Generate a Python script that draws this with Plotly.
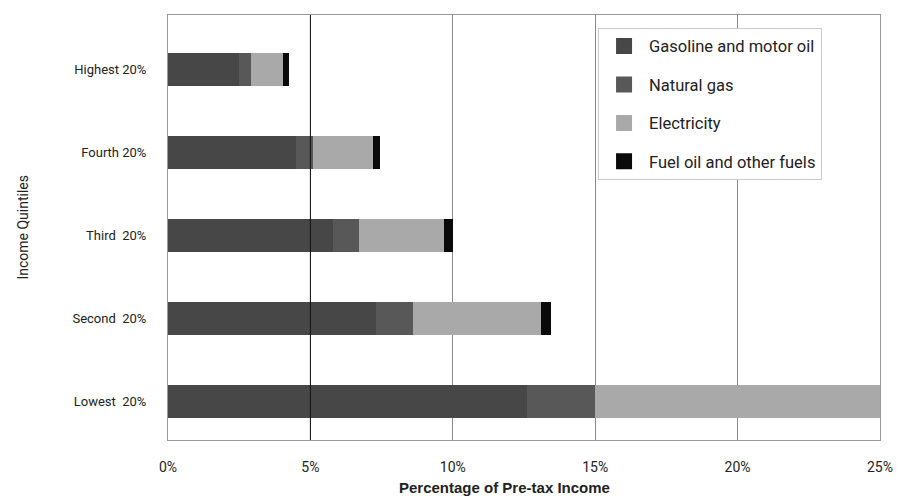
import plotly.graph_objects as go

quintiles = ["Lowest  20%", "Second  20%", "Third  20%", "Fourth 20%", "Highest 20%"]
gasoline = [12.6, 7.3, 5.8, 4.5, 2.5]
natural_gas = [2.4, 1.3, 0.9, 0.6, 0.4]
electricity = [10.3, 4.5, 3.0, 2.1, 1.15]
fuel_oil = [0.8, 0.35, 0.3, 0.25, 0.2]
x_ticks = [0, 5, 10, 15, 20, 25]
x_tick_labels = ["0%", "5%", "10%", "15%", "20%", "25%"]

series = [
    ("Gasoline and motor oil", gasoline, "#474747"),
    ("Natural gas", natural_gas, "#585858"),
    ("Electricity", electricity, "#a9a9a9"),
    ("Fuel oil and other fuels", fuel_oil, "#0a0a0a"),
]

FONT = "Liberation Sans Narrow, Roboto, Open Sans"

fig = go.Figure()
for name, vals, color in series:
    fig.add_trace(go.Bar(
        y=quintiles, x=vals, name=name, orientation="h",
        marker=dict(color=color, line=dict(width=0)),
        legendgroup=name, showlegend=False,
    ))
# legend entries with larger square swatches
for name, vals, color in series:
    fig.add_trace(go.Scatter(
        x=[None], y=[None], mode="markers", name=name,
        marker=dict(symbol="square", size=19, color=color),
        legendgroup=name, showlegend=True,
    ))

fig.add_shape(type="line", xref="x", yref="paper", x0=5, x1=5, y0=0, y1=1,
              line=dict(color="#111111", width=1))

fig.add_annotation(text="Income Quintiles", xref="paper", yref="paper",
                   x=-0.205, y=0.5, xanchor="center", yanchor="middle",
                   textangle=-90, showarrow=False,
                   font=dict(family=FONT, size=14, color="#222222"))

fig.add_annotation(text="<b>Percentage of Pre-tax Income</b>", xref="paper", yref="paper",
                   x=0.472, y=0, yshift=-47, xanchor="center", yanchor="middle",
                   showarrow=False,
                   font=dict(family="Liberation Sans, Arial", size=15, color="#222222"))

fig.update_layout(
    width=894, height=488,
    barmode="stack", bargap=0.6,
    paper_bgcolor="white", plot_bgcolor="white",
    margin=dict(l=160, r=22, t=7, b=56, autoexpand=False),
    font=dict(family=FONT, size=13, color="#222222"),
    legend=dict(
        x=0.604, y=0.97, xanchor="left", yanchor="top",
        bgcolor="white", bordercolor="#cccccc", borderwidth=1,
        font=dict(family=FONT, size=16.5, color="#222222"),
        traceorder="grouped", tracegroupgap=14,
        itemwidth=40,
    ),
    xaxis=dict(
        range=[0, 25], tickvals=x_ticks, ticktext=x_tick_labels,
        showgrid=True, gridcolor="#8a8a8a", gridwidth=1,
        zeroline=False, showline=True, linecolor="#999999", mirror=True,
        ticks="", ticklabelstandoff=14, automargin=False,
        tickfont=dict(size=14),
    ),
    yaxis=dict(
        range=[-0.46, 4.66], automargin=False,
        showgrid=False, zeroline=False, showline=True, linecolor="#999999", mirror=True,
        ticks="", ticklabelstandoff=18,
        tickfont=dict(size=13),
    ),
)

fig.write_html("out.html")
